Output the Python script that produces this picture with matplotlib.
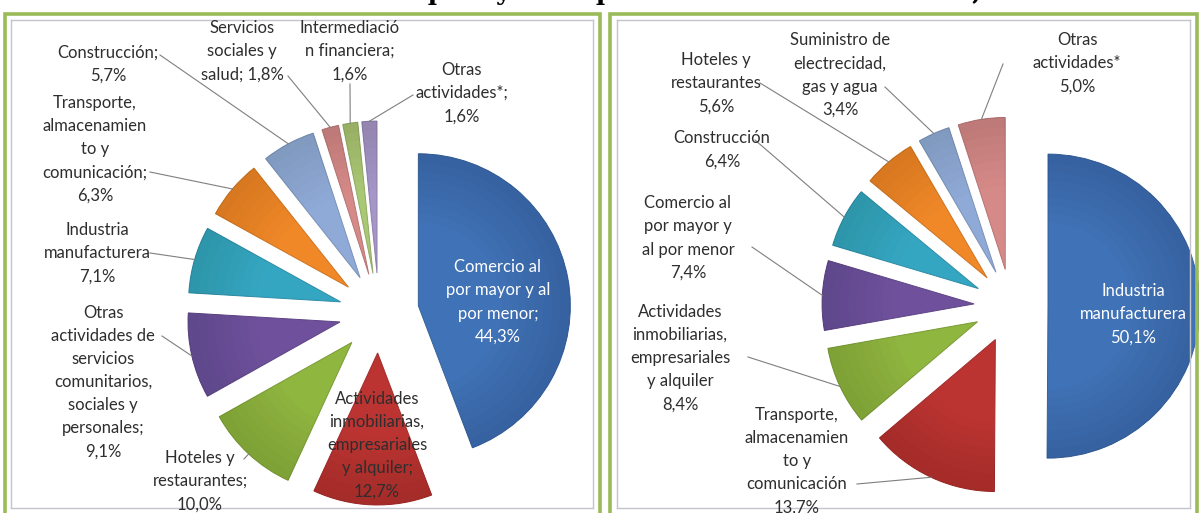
import numpy as np
import matplotlib.pyplot as plt
from matplotlib.patches import Rectangle, Wedge
from matplotlib.colors import to_rgb

W, H = 1199, 513

# --- datos ---
left_names = ["Comercio al\npor mayor y al\npor menor;",
              "Actividades\ninmobiliarias,\nempresariales\ny alquiler;",
              "Hoteles y\nrestaurantes;",
              "Otras\nactividades de\nservicios\ncomunitarios,\nsociales y\npersonales;",
              "Industria\nmanufacturera",
              "Transporte,\nalmacenamien\nto y\ncomunicación;",
              "Construcción;",
              "Servicios\nsociales y\nsalud;",
              "Intermediació\nn financiera;",
              "Otras\nactividades*;"]
left_values = [44.3, 12.7, 10.0, 9.1, 7.1, 6.3, 5.7, 1.8, 1.6, 1.6]
left_joins = ["\n", "\n", "\n", "\n", "\n", "\n", "\n", " ", "\n", "\n"]

right_names = ["Industria\nmanufacturera",
               "Transporte,\nalmacenamien\nto y\ncomunicación",
               "Actividades\ninmobiliarias,\nempresariales\ny alquiler",
               "Comercio al\npor mayor y\nal por menor",
               "Construcción",
               "Hoteles y\nrestaurantes",
               "Suministro de\nelectrecidad,\ngas y agua",
               "Otras\nactividades*"]
right_values = [50.1, 13.7, 8.4, 7.4, 6.4, 5.6, 3.4, 5.0]

title = "Estructura del empleo y de la producción total del sector, 2007"

# --- estilo ---
BLUE, RED, GREEN, PURPLE = "#3F72B6", "#BC3431", "#8FB63F", "#6F509C"
CYAN, ORANGE = "#35A6C2", "#F08828"
LBLUE, PINK, LGREEN, LAV = "#90AAD8", "#D68A88", "#A9C874", "#A595C8"

left_colors = [BLUE, RED, GREEN, PURPLE, CYAN, ORANGE, LBLUE, PINK, LGREEN, LAV]
right_colors = [BLUE, RED, GREEN, PURPLE, CYAN, ORANGE, LBLUE, PINK]

# posiciones de etiquetas (px de la imagen, y hacia abajo) y origen de la guia
left_text = [(498, 302), (377, 445), (200, 481), (103, 382), (97, 253),
             (95, 149), (108, 64), (242, 51), (350, 51), (462, 93)]
left_lead = [None, None, (244, 459), (162, 336), (150, 253),
             (150, 172), (160, 55), (288, 76), (350, 84), (413, 95)]
right_text = [(1133, 314), (797, 461), (680, 358), (688, 238), (722, 150),
              (716, 83), (840, 75), (1077, 63)]
right_lead = [None, (857, 484), (748, 357), (752, 247), (755, 140),
              (760, 83), (885, 87), (1003, 64)]

FONT = "Lato"
R = 152


def pct(v):
    return f"{v:.1f}%".replace(".", ",")


def darker(c, f=0.85):
    r, g, b = to_rgb(c)
    return (r * f, g * f, b * f)


def draw_panel(box, values, colors, labels, center, explode, text_pos, lead_pos):
    x0, y0, x1, y1 = box
    ax = fig.add_axes([x0 / W, 1 - y1 / H, (x1 - x0) / W, (y1 - y0) / H])
    wedges, _ = ax.pie(values, colors=colors, radius=R, center=center,
                       startangle=270, counterclock=True,
                       explode=[explode] * len(values), frame=True,
                       wedgeprops=dict(linewidth=0.7))
    for w, c in zip(wedges, colors):
        w.set_edgecolor(darker(c))
        # sombreado suave hacia el borde exterior
        for k in range(8):
            r_in = R * (0.55 + 0.055 * k)
            ax.add_patch(Wedge(w.center, R, w.theta1, w.theta2, width=R - r_in,
                               facecolor="black", alpha=0.013, edgecolor="none",
                               zorder=w.get_zorder() + 0.1))
    ax.set_xlim(x0, x1)
    ax.set_ylim(y1, y0)
    ax.set_aspect("auto")
    ax.set_xticks([])
    ax.set_yticks([])
    for s in ax.spines.values():
        s.set_color("#C3C5CE")
        s.set_linewidth(1)

    for i, (w, lab) in enumerate(zip(wedges, labels)):
        col = "white" if i == 0 else "#2E2E2E"
        tx, ty = text_pos[i]
        ax.text(tx, ty, lab, ha="center", va="center", multialignment="center",
                fontsize=12, family=FONT, color=col, linespacing=1.55, zorder=5)
        if lead_pos[i] is not None:
            mid = np.deg2rad((w.theta1 + w.theta2) / 2)
            cx, cy = w.center
            ex, ey = cx + R * np.cos(mid), cy + R * np.sin(mid)
            sx, sy = lead_pos[i]
            ax.plot([sx, ex], [sy, ey], color="#7F7F7F", lw=0.8, zorder=4)
    return ax


fig = plt.figure(figsize=(W / 100, H / 100), dpi=100)
fig.patch.set_facecolor("white")

# marcos verdes exteriores
for gx0, gx1 in [(4.5, 599.5), (610.5, 1196.5)]:
    fig.patches.append(Rectangle((gx0 / W, -0.05), (gx1 - gx0) / W, (H - 13.5) / H + 0.05,
                                 transform=fig.transFigure, fill=False,
                                 edgecolor="#9BBB59", linewidth=2.6))

left_labels = [n + j + pct(v) for n, j, v in zip(left_names, left_joins, left_values)]
right_labels = [n + "\n" + pct(v) for n, v in zip(right_names, right_values)]

# explode de matplotlib va en unidades de datos (px aqui)
draw_panel((11, 20, 593, 508), left_values, left_colors, left_labels,
           (379, 313), 40, left_text, left_lead)
draw_panel((617, 20, 1190, 508), right_values, right_colors, right_labels,
           (1011, 306), 37, right_text, right_lead)

# titulo cortado por arriba: solo asoman los trazos descendentes
fig.text(175 / W, 1.0, title, ha="left", va="baseline",
         family="DejaVu Serif", fontweight="bold", fontsize=18, color="black")

fig.savefig("out.png", dpi=100)
